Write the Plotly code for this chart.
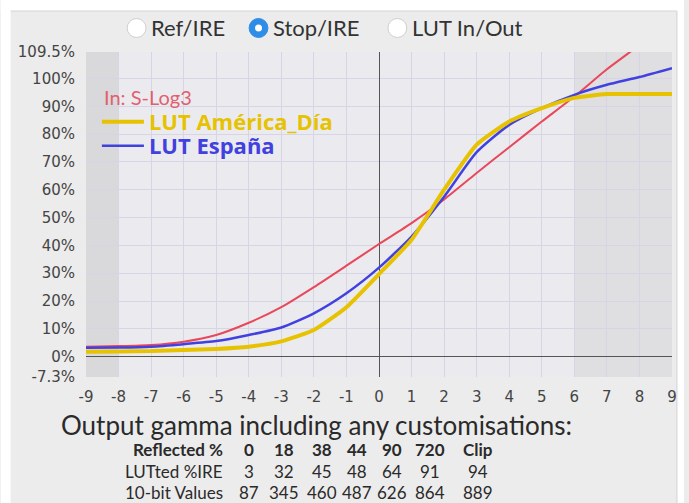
import plotly.graph_objects as go

# exposure in stops relative to 18% grey
stops = [-9, -8, -7, -6, -5, -4, -3, -2, -1, 0, 1, 2, 3, 4, 5, 6, 7, 8, 9]
stop_labels = ["-9", "-8", "-7", "-6", "-5", "-4", "-3", "-2", "-1", "0", "1", "2", "3", "4", "5", "6", "7", "8", "9"]

# output level in % IRE
slog3 = [3.6, 3.8, 4.2, 5.4, 7.8, 12.2, 17.8, 25.0, 32.7, 40.5, 48.0, 56.5, 66.0, 75.3, 84.5, 93.5, 103.3, 112.0, 121.0]
lut_america = [1.8, 1.9, 2.0, 2.4, 2.8, 3.6, 5.5, 9.6, 17.8, 29.7, 42.0, 60.0, 76.2, 84.5, 89.3, 93.0, 94.4, 94.4, 94.4]
lut_espana = [3.2, 3.3, 3.6, 4.5, 5.6, 7.8, 10.5, 15.6, 22.8, 32.0, 43.2, 57.5, 73.5, 83.3, 89.3, 94.1, 97.7, 100.5, 103.7]

ytick_vals = [-7.3, 0, 10, 20, 30, 40, 50, 60, 70, 80, 90, 100, 109.5]
ytick_text = ["-7.3%", "0%", "10%", "20%", "30%", "40%", "50%", "60%", "70%", "80%", "90%", "100%", "109.5%"]

# table under the chart
row_labels = ["Reflected %", "LUTted %IRE", "10-bit Values"]
reflected = ["0", "18", "38", "44", "90", "720", "Clip"]
lutted_ire = [3, 32, 45, 48, 64, 91, 94]
ten_bit = [87, 345, 460, 487, 626, 864, 889]

radio_labels = ["Ref/IRE", "Stop/IRE", "LUT In/Out"]
radio_selected = 1

W, H = 689, 503
L, R, T, B = 86, 12, 52, 126
PW, PH = W - L - R, H - T - B

def px(x):
    return (x - L) / PW

def py(y):
    return (H - B - y) / PH

RED = "#e8485a"
YELLOW = "#e6c200"
BLUE = "#4141e0"
TXT = "Lato, 'Open Sans', sans-serif"

fig = go.Figure()
fig.add_trace(go.Scatter(x=stops, y=slog3, mode="lines", line=dict(color=RED, width=2, shape="spline", smoothing=0.6),
                         showlegend=False, name="S-Log3"))
fig.add_trace(go.Scatter(x=stops, y=lut_espana, mode="lines", line=dict(color=BLUE, width=2.5, shape="spline", smoothing=0.6),
                         name=f"<b><span style='color:{BLUE}'>LUT España</span></b>", legend="legend2"))
fig.add_trace(go.Scatter(x=stops, y=lut_america, mode="lines", line=dict(color=YELLOW, width=4, shape="spline", smoothing=0.5),
                         name=f"<b><span style='color:{YELLOW}'>LUT América_Día</span></b>", legend="legend"))

# shaded exposure zones
fig.add_vrect(x0=-9, x1=-8, fillcolor="#d9d9db", line_width=0, layer="below")
fig.add_vrect(x0=6, x1=9, fillcolor="#dfdfe1", line_width=0, layer="below")

# page panel border (white outside)
for x0, x1, y0, y1 in [(0, W, 0, 11), (0, 10, 0, H), (682, W, 0, H)]:
    fig.add_shape(type="rect", xref="paper", yref="paper", x0=px(x0), x1=px(x1), y0=py(y1), y1=py(y0),
                  fillcolor="white", line_width=0, layer="below")
fig.add_shape(type="line", xref="paper", yref="paper", x0=px(10), x1=px(682), y0=py(11), y1=py(11),
              line=dict(color="#d4d4d4", width=1))
fig.add_shape(type="line", xref="paper", yref="paper", x0=px(682), x1=px(682), y0=py(11), y1=py(H),
              line=dict(color="#d4d4d4", width=1))

# radio buttons
radio_cx = [137, 260, 400]
for i, (lab, cx) in enumerate(zip(radio_labels, radio_cx)):
    r = 9.5
    if i == radio_selected:
        fig.add_shape(type="circle", xref="paper", yref="paper", x0=px(cx - r), x1=px(cx + r), y0=py(28 + r), y1=py(28 - r),
                      fillcolor="#2e8de6", line=dict(color="#2e8de6", width=1))
        fig.add_shape(type="circle", xref="paper", yref="paper", x0=px(cx - 3.5), x1=px(cx + 3.5), y0=py(31.5), y1=py(24.5),
                      fillcolor="white", line_width=0)
    else:
        fig.add_shape(type="circle", xref="paper", yref="paper", x0=px(cx - r), x1=px(cx + r), y0=py(28 + r), y1=py(28 - r),
                      fillcolor="white", line=dict(color="#cfcfcf", width=1))
    fig.add_annotation(text=lab, xref="paper", yref="paper", x=px(cx + 13), y=py(28), xanchor="left", yanchor="middle",
                       showarrow=False, font=dict(family=TXT, size=22, color="#333333"))

# legend header
fig.add_annotation(text="In: S-Log3", xref="paper", yref="paper", x=px(102), y=py(97), xanchor="left", yanchor="middle",
                   showarrow=False, font=dict(family=TXT, size=20, color="#e0606e"))

# title and table below
fig.add_annotation(text="Output gamma including any customisations:", xref="paper", yref="paper", x=px(59), y=py(425),
                   xanchor="left", yanchor="middle", showarrow=False, font=dict(family=TXT, size=26, color="#2a2a2a"))
col_x = [250, 286, 324, 359, 395, 433, 481]
row_y = [449, 471, 492]
rows = [reflected, lutted_ire, ten_bit]
for ri, (lab, vals, yy) in enumerate(zip(row_labels, rows, row_y)):
    bold = ri == 0
    f = dict(family=TXT, size=17, color="#2a2a2a")
    t = f"<b>{lab}</b>" if bold else lab
    fig.add_annotation(text=t, xref="paper", yref="paper", x=px(226), y=py(yy), xanchor="right", yanchor="middle",
                       showarrow=False, font=f)
    for v, cx in zip(vals, col_x):
        t = f"<b>{v}</b>" if bold else str(v)
        fig.add_annotation(text=t, xref="paper", yref="paper", x=px(cx), y=py(yy), xanchor="center", yanchor="middle",
                           showarrow=False, font=f)

leg_font = dict(family="'Open Sans', sans-serif", size=22)
fig.update_layout(
    width=W, height=H,
    margin=dict(l=L, r=R, t=T, b=B),
    paper_bgcolor="#ececec",
    plot_bgcolor="#ebebef",
    legend=dict(x=px(97), y=py(122), xanchor="left", yanchor="middle", bgcolor="rgba(0,0,0,0)",
                font=leg_font, itemwidth=42),
    legend2=dict(x=px(97), y=py(146), xanchor="left", yanchor="middle", bgcolor="rgba(0,0,0,0)",
                 font=leg_font, itemwidth=42),
)
fig.update_xaxes(range=[-9, 9], tickmode="array", tickvals=stops, ticktext=stop_labels, showgrid=True,
                 gridcolor="#d5d5e6", gridwidth=1, zeroline=True, zerolinecolor="#555555", zerolinewidth=1,
                 ticks="outside", ticklen=6, tickcolor="rgba(0,0,0,0)",
                 tickfont=dict(family="DejaVu Sans", size=15, color="#444444"))
fig.update_yaxes(range=[-7.3, 109.5], tickmode="array", tickvals=ytick_vals, ticktext=ytick_text, showgrid=True,
                 gridcolor="#d5d5e6", gridwidth=1, zeroline=True, zerolinecolor="#555555", zerolinewidth=1,
                 ticks="outside", ticklen=7, tickcolor="rgba(0,0,0,0)",
                 tickfont=dict(family="DejaVu Sans", size=15, color="#444444"))

fig.write_html("out.html", config={"displayModeBar": False}, post_script="document.body.style.margin='0px';")
